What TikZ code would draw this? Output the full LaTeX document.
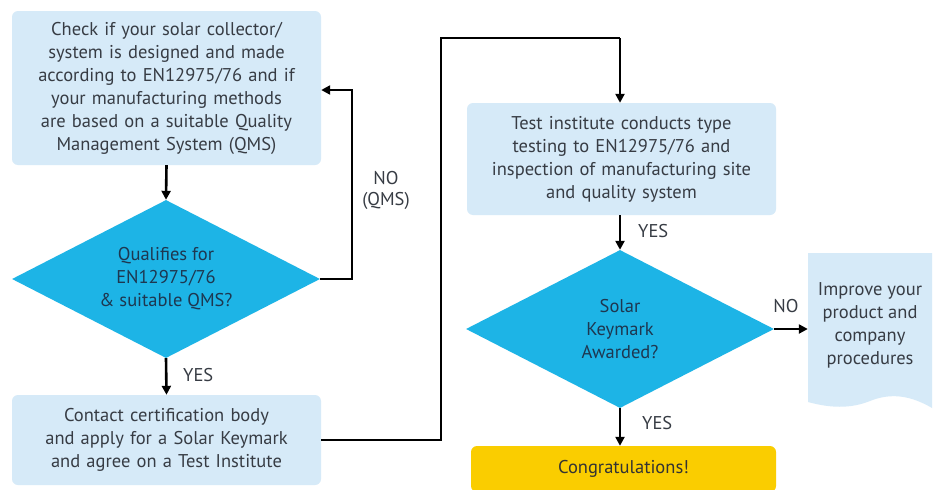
\documentclass[tikz,border=0pt]{standalone}
\usepackage{fontspec}
\setmainfont{PT Sans}
\usetikzlibrary{shapes.geometric,arrows.meta}
\definecolor{boxblue}{RGB}{214,234,248}
\definecolor{diacyan}{RGB}{29,180,230}
\definecolor{congyellow}{RGB}{250,205,0}
\definecolor{txt}{RGB}{55,60,68}
\definecolor{diatxt}{RGB}{30,55,80}
\tikzset{
  stepbox/.style={fill=boxblue, rounded corners=6pt, align=center, text=txt, inner sep=0pt,
    font=\fontsize{18.5}{23}\selectfont, text width=305pt},
  decision/.style={diamond, fill=diacyan, aspect=1.95, minimum width=308pt, minimum height=158pt,
    inner sep=0pt, align=center, text=diatxt, font=\fontsize{18.5}{23}\selectfont},
  flow/.style={line width=2.6pt, -{Triangle[length=9pt,width=9pt]}},
  lbl/.style={text=txt, font=\fontsize{18.5}{21}\selectfont, align=center, inner sep=0pt}
}
\begin{document}
\begin{tikzpicture}[x=1pt,y=-1pt]
\useasboundingbox (0,0) rectangle (938,490);
\fill[white] (0,0) rectangle (938,490);
% left column
\node[stepbox, minimum width=309pt, minimum height=154pt] (check) at (166.5,88)
  {Check if your solar collector/\\system is designed and made\\according to EN12975/76 and if\\your manufacturing methods\\are based on a suitable Quality\\Management System (QMS)};
\node[decision] (qual) at (166,279) {Qualifies for\\EN12975/76\\\& suitable QMS?};
\node[stepbox, minimum width=309pt, minimum height=90pt] (contact) at (166.5,440)
  {Contact certification body\\and apply for a Solar Keymark\\and agree on a Test Institute};
% right column
\node[stepbox, minimum width=309pt, minimum height=112pt] (test) at (621.5,159)
  {Test institute conducts type\\testing to EN12975/76 and\\inspection of manufacturing site\\and quality system};
\node[decision] (award) at (620,329) {Solar\\Keymark\\Awarded?};
\node[stepbox, fill=congyellow, minimum width=305pt, minimum height=46pt, text=black!80] (cong) at (623.5,469) {Congratulations!};
% improve (document shape)
\fill[boxblue] (808,253) -- (932,253) -- (932,408)
  .. controls (905,392) and (885,395) .. (870,401)
  .. controls (850,409) and (830,408) .. (808,402) -- cycle;
\node[text=txt, align=center, inner sep=0pt, font=\fontsize{18.5}{23}\selectfont, minimum width=124pt, minimum height=150pt] (improve) at (870,325)
  {Improve your\\product and\\company\\procedures};
% connectors
\draw[flow] (check.south) -- (qual.north);
\coordinate (n1) at (352,279);
\coordinate (n2) at (352,90);
\draw[flow] (qual.east) -- (n1) -- (n2) -- (check.east |- n2);
\node[lbl] (noqms) at (386,190) {NO\\(QMS)};
\draw[flow] (qual.south) -- (contact.north);
\node[lbl, anchor=west] (yes1) at (183,375) {YES};
\coordinate (c1) at (441,440);
\coordinate (c2) at (441,38);
\coordinate (c3) at (620,38);
\draw[line width=2.6pt] (contact.east) -- (c1) -- (c2) -- (c3);
\draw[flow] (c3) -- (test.north -| c3);
\draw[flow] (test.south -| award.north) -- (award.north);
\node[lbl, anchor=west] (yes2) at (638,231) {YES};
\draw[flow] (award.east) -- (improve.west |- award.east);
\node[lbl] (no2) at (786,306) {NO};
\draw[flow] (award.south) -- (cong.north -| award.south);
\node[lbl, anchor=west] (yes3) at (642,423) {YES};
\end{tikzpicture}
\end{document}
